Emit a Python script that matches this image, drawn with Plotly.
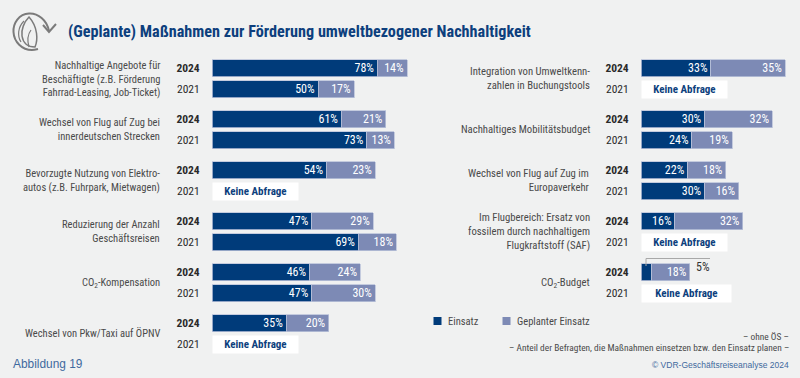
import plotly.graph_objects as go

FONT = "'Roboto Condensed', 'Lato', sans-serif"
SANS = "Liberation Sans"
BG = "#f0f1f1"
DARK = "#003b7a"
LIGHT = "#7d8ab5"
EDGE = "#b9c2da"
GRAY = "#4a4a4a"
BLUE = "#0d3f7d"

# left column
left_labels = ["Nachhaltige Angebote für<br>Beschäftigte (z.B. Förderung<br>Fahrrad-Leasing, Job-Ticket)",
               "Wechsel von Flug auf Zug bei<br>innerdeutschen Strecken",
               "Bevorzugte Nutzung von Elektro-<br>autos (z.B. Fuhrpark, Mietwagen)",
               "Reduzierung der Anzahl<br>Geschäftsreisen",
               "CO<sub>2</sub>-Kompensation",
               "Wechsel von Pkw/Taxi auf ÖPNV"]
left_use_2024 = [78, 61, 54, 47, 46, 35]
left_plan_2024 = [14, 21, 23, 29, 24, 20]
left_use_2021 = [50, 73, None, 69, 47, None]
left_plan_2021 = [17, 13, None, 18, 30, None]

# right column
right_labels = ["Integration von Umweltkenn-<br>zahlen in Buchungstools",
                "Nachhaltiges Mobilitätsbudget",
                "Wechsel von Flug auf Zug im<br>Europaverkehr",
                "Im Flugbereich: Ersatz von<br>fossilem durch nachhaltigem<br>Flugkraftstoff (SAF)",
                "CO<sub>2</sub>-Budget"]
right_use_2024 = [33, 30, 22, 16, 5]
right_plan_2024 = [35, 32, 18, 32, 18]
right_use_2021 = [None, 24, 30, None, None]
right_plan_2021 = [None, 19, 16, None, None]

TOP, STEP, GAP, BAR_H = 68, 51, 21, 17
W, H = 800, 378
PX_PER_PCT = 2.12


def y24(i):
    return TOP + STEP * i


def y21(i):
    return TOP + STEP * i + GAP


fig = go.Figure()
annotations, shapes = [], []


def ann(text, x, y, size=10.5, color=GRAY, anchor="right", **kw):
    annotations.append(dict(text=text, x=x, y=y, xref="x3", yref="y3", xanchor=anchor, yanchor="middle",
                            showarrow=False, align=anchor if anchor != "center" else "center",
                            font=dict(family=kw.pop("family", FONT), size=size, color=color), **kw))


def panel(labels, u24, p24, u21, p21, xa, ya, label_x, size=10.5):
    n = len(labels)
    ys, us, ps = [], [], []
    for i in range(n):
        if u24[i] is not None:
            ys.append(y24(i)); us.append(u24[i]); ps.append(p24[i])
        if u21[i] is not None:
            ys.append(y21(i)); us.append(u21[i]); ps.append(p21[i])
    for vals, color, name in ((us, DARK, "Einsatz"), (ps, LIGHT, "Geplanter Einsatz")):
        texts = [None if (v == 5) else f"{v}%" for v in vals]
        fig.add_trace(go.Bar(
            y=ys, x=vals, orientation="h", width=BAR_H, name=name, xaxis=xa, yaxis=ya,
            marker=dict(color=color, line=dict(color=EDGE, width=0.8)),
            text=texts, textposition="inside", insidetextanchor="end", textangle=0,
            constraintext="none", cliponaxis=False,
            textfont=dict(family=FONT, size=12, color="white"),
            hoverinfo="skip", showlegend=False))
    for i, lab in enumerate(labels):
        ann(lab, label_x, (y24(i) + y21(i)) / 2, size=size)


panel(left_labels, left_use_2024, left_plan_2024, left_use_2021, left_plan_2021, "x", "y", 162)
panel(right_labels, right_use_2024, right_plan_2024, right_use_2021, right_plan_2021, "x2", "y2", 592, size=10.7)

# "Keine Abfrage" boxes
for xa, vals, x0 in (("L", left_use_2021, 212), ("R", right_use_2021, 641)):
    for i, v in enumerate(vals):
        if v is None:
            w = 89 if (xa == "R" and i == 4) else 85
            annotations.append(dict(text="<b>Keine Abfrage</b>", x=x0, y=y21(i), xref="x3", yref="y3",
                                    xanchor="left", yanchor="middle", showarrow=False, width=w, height=17,
                                    bgcolor="white", borderpad=0, align="center", valign="middle",
                                    font=dict(family=FONT, size=11, color=BLUE)))

# 5% leader line
shapes.append(dict(type="path", xref="x3", yref="y3", path="M646,266 L646,258.5 L710,258.5",
                   line=dict(color="#a8a8a8", width=1)))
ann("5%", 712, 267, size=12, color="#333333", anchor="right")

# icon
ICON = "#7b7b7b"
shapes.append(dict(type="path", xref="x3", yref="y3",
                   path="M49,31 C47,20 38,13 29,13.5 C19,14 13,23 13.5,32 C14,42 22,50 32,50 C34,50 36,49.5 38,49",
                   line=dict(color=ICON, width=2)))
shapes.append(dict(type="path", xref="x3", yref="y3", path="M43,25 L49,32 L56,24",
                   line=dict(color=ICON, width=2)))
shapes.append(dict(type="path", xref="x3", yref="y3",
                   path="M29,17 C24,22 21,30 22,36 C23,42 27,47 35,47 C38,40 38,27 29,17 Z",
                   line=dict(color=ICON, width=1.5)))
shapes.append(dict(type="path", xref="x3", yref="y3", path="M24,21 C18,27 17,36 21,42",
                   line=dict(color=ICON, width=1.2)))
shapes.append(dict(type="path", xref="x3", yref="y3", path="M29,47 C27,40 28,34 31,30",
                   line=dict(color=ICON, width=1.2)))

# title and notes
ann("<b>(Geplante) Maßnahmen zur Förderung umweltbezogener Nachhaltigkeit</b>", 66, 31, size=16.2,
    color=BLUE, anchor="left")
ann("Abbildung 19", 11, 364, size=11.9, color="#3f6a9e", anchor="left", family=SANS)
ann("© VDR-Geschäftsreiseanalyse 2024", 791, 365, size=8.5, color="#3f6a9e", anchor="right", family=SANS)
ann("– ohne ÖS –", 791, 336.5, size=9.4)
ann("– Anteil der Befragten, die Maßnahmen einsetzen bzw. den Einsatz planen –", 791, 347, size=9.4)

# legend
shapes.append(dict(type="rect", xref="x3", yref="y3", x0=433.5, x1=441.5, y0=317, y1=325, fillcolor=DARK, line_width=0))
shapes.append(dict(type="rect", xref="x3", yref="y3", x0=502.5, x1=510.5, y0=317, y1=325, fillcolor=LIGHT, line_width=0))
ann("Einsatz", 446, 321, anchor="left")
ann("Geplanter Einsatz", 515, 321, anchor="left")

ticks = [t for i in range(6) for t in (y24(i), y21(i))]
labels = [t for i in range(6) for t in ("<b>2024</b>", "2021")]
yaxis_common = dict(range=[H, 0], domain=[0, 1], showgrid=False, zeroline=False, showline=False,
                    ticks="outside", ticklen=9, tickcolor="rgba(0,0,0,0)", tickvals=ticks, ticktext=labels,
                    tickfont=dict(family=FONT, size=11.5, color="#2a2a2a"))
xaxis_common = dict(visible=False, range=[0, 95], fixedrange=True)

fig.update_layout(
    width=W, height=H, margin=dict(l=0, r=0, t=0, b=0), autosize=False,
    paper_bgcolor=BG, plot_bgcolor="rgba(0,0,0,0)", barmode="stack", showlegend=False,
    xaxis=dict(xaxis_common, domain=[212 / W, (212 + 95 * PX_PER_PCT) / W], anchor="y"),
    yaxis=dict(yaxis_common, anchor="x"),
    xaxis2=dict(xaxis_common, range=[0, 70], domain=[641 / W, (641 + 70 * PX_PER_PCT) / W], anchor="y2"),
    yaxis2=dict(yaxis_common, anchor="x2", tickvals=ticks[:10], ticktext=labels[:10]),
    xaxis3=dict(visible=False, range=[0, W], domain=[0, 1], anchor="y3"),
    yaxis3=dict(visible=False, range=[H, 0], domain=[0, 1], anchor="x3"),
    annotations=annotations, shapes=shapes,
)
fig.add_trace(go.Scatter(x=[None], y=[None], xaxis="x3", yaxis="y3", showlegend=False))
fig.write_html("out.html", config=dict(displayModeBar=False),
               post_script="document.body.style.margin='0';document.body.style.background='" + BG + "';")
